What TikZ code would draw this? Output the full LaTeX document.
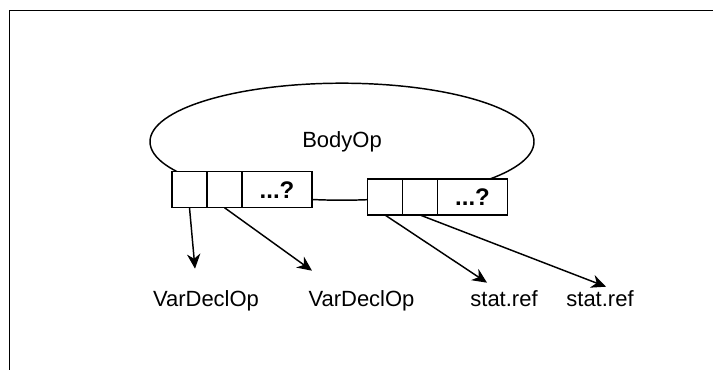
\documentclass[tikz,border=0pt]{standalone}
\usepackage{fontspec}
\setmainfont{Liberation Sans}
\usetikzlibrary{positioning,calc,shapes.geometric,arrows.meta}

\tikzset{
  cell/.style={draw, fill=white, line width=1.1pt, minimum width=26.25pt, minimum height=27pt, inner sep=0pt, outer sep=0pt},
  widecell/.style={cell, minimum width=52.5pt, font=\fontsize{18}{20}\selectfont\bfseries},
  lbl/.style={inner sep=0pt, text height=12pt, text depth=3.5pt, font=\fontsize{16.5}{20}\selectfont},
  ref/.style={draw, line width=1.1pt, -{Stealth[length=11pt,width=10pt,inset=3.5pt]}}
}

\begin{document}
\begin{tikzpicture}[x=0.75pt,y=-0.75pt]
\useasboundingbox (0,0) rectangle (713,370);
\clip (0,0) rectangle (713,370);
\draw [line width=1.1pt] (9.5,10.5) rectangle (760,420);

\node [draw, ellipse, line width=1.1pt, minimum width=288pt, minimum height=87.75pt, inner sep=0pt, font=\fontsize{16.5}{20}\selectfont] (body) at (342,141.7) {BodyOp};

\node [cell] (c11) at (189.5,189.7) {};
\node [cell, right=0pt of c11] (c12) {};
\node [widecell, right=0pt of c12] (c13) {...?};

\node [cell] (c21) at (385,197) {};
\node [cell, right=0pt of c21] (c22) {};
\node [widecell, right=0pt of c22] (c23) {...?};

\node [lbl] (v1) at (206,301.3) {VarDeclOp};
\node [lbl] (v2) at (361.5,301.3) {VarDeclOp};
\node [lbl] (s1) at (504,301.3) {stat.ref};
\node [lbl] (s2) at (600,301.3) {stat.ref};

\draw [ref] (c11.south) -- ($(v1.north)+(-11,-22)$);
\draw [ref] (c12.south) -- ($(v2.north)+(-49.5,-20)$);
\draw [ref] (c21.south) -- ($(s1.north)+(-17,-8)$);
\draw [ref] (c22.south) -- ($(s2.north)+(6,-4)$);
\end{tikzpicture}
\end{document}
